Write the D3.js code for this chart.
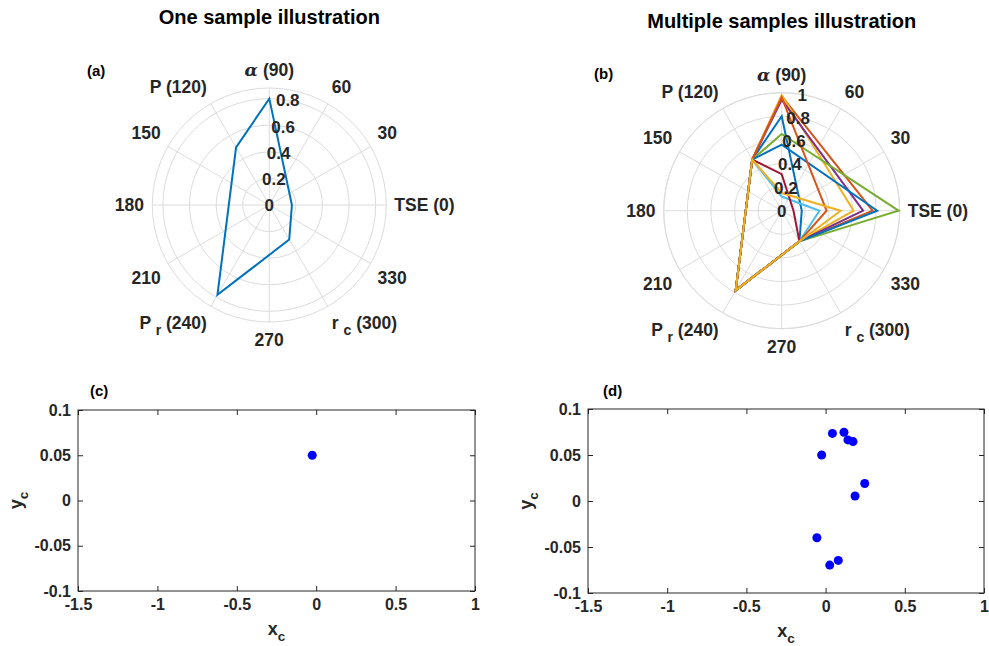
<!DOCTYPE html>
<html>
<head>
<meta charset="utf-8">
<script src="https://cdn.jsdelivr.net/npm/d3@7"></script>
<style>
  body { margin: 0; background: #fff; }
  svg { font-family: "Liberation Sans", Arial, sans-serif; font-weight: bold; }
  .tick text { fill: #262626; }
</style>
</head>
<body>
<svg id="fig" width="989" height="646"></svg>
<script>
// ---- data ----
// polar axes (angle in degrees), order: TSE, alpha, P, Pr, rc
var axisAngles = [0, 90, 120, 240, 300];
var thetaTicks = [0, 30, 60, 90, 120, 150, 180, 210, 240, 270, 300, 330];
var thetaLabels = ["TSE (0)", "30", "60", "α (90)", "P (120)", "150", "180", "210", "P_r (240)", "270", "r_c (300)", "330"];
var rTicksA = [0, 0.2, 0.4, 0.6, 0.8];
var rTicksB = [0, 0.2, 0.4, 0.6, 0.8, 1];

// one sample (a)
var sampleOne = [0.17, 0.80, 0.50, 0.78, 0.30];

// multiple samples (b)
var s1 = [0.17, 0.80, 0.50, 0.78, 0.30];
var s2 = [0.77, 0.97, 0.50, 0.78, 0.30];
var s3 = [0.61, 0.98, 0.50, 0.78, 0.30];
var s4 = [0.69, 0.94, 0.50, 0.78, 0.30];
var s5 = [0.99, 0.65, 0.50, 0.78, 0.30];
var s6 = [0.32, 0.12, 0.50, 0.78, 0.30];
var s7 = [0.10, 0.31, 0.50, 0.78, 0.30];
var s8 = [0.81, 0.56, 0.50, 0.78, 0.30];
var s9 = [0.38, 0.96, 0.50, 0.78, 0.30];
var s10 = [0.50, 0.15, 0.50, 0.78, 0.30];
var samples = [s1, s2, s3, s4, s5, s6, s7, s8, s9, s10];
var lineColors = ["#0072BD", "#D95319", "#EDB120", "#7E2F8E", "#77AC30", "#4DBEEE", "#A2142F"];

// centre coordinates (c) and (d)
var xcOne = [-0.025];
var ycOne = [0.05];
var xcAll = [-0.025, 0.043, 0.116, 0.141, 0.173, 0.247, 0.186, -0.055, 0.026, 0.080];
var ycAll = [0.05, 0.0735, 0.0747, 0.0664, 0.0646, 0.019, 0.0054, -0.040, -0.0697, -0.0646];
var xTicks = [-1.5, -1, -0.5, 0, 0.5, 1];
var yTicks = [-0.1, -0.05, 0, 0.05, 0.1];

var ink = "#262626";
var svg = d3.select("#fig");

// write a label that may contain a subscript (X_s) or the alpha symbol
function richText(sel, label, size) {
    var parts = label.split("_");
    if (parts.length == 2) {
        var rest = parts[1];
        sel.append("tspan").text(parts[0] + " ");
        sel.append("tspan").attr("dy", size * 0.35).attr("font-size", size * 0.8).text(rest[0]);
        sel.append("tspan").attr("dy", -size * 0.35).text(rest.slice(1));
    } else if (label.indexOf("α") == 0) {
        sel.append("tspan").attr("font-family", "DejaVu Serif, serif").attr("font-style", "italic").text("α");
        sel.append("tspan").text(label.slice(1));
    } else {
        sel.text(label);
    }
}

function polarPanel(cx, cy, R, rmax, rTicks, series, colors, title, titleY, letter, letterXY) {
    var g = svg.append("g").attr("transform", "translate(" + cx + "," + cy + ")");
    var r = d3.scaleLinear().domain([0, rmax]).range([0, R]);
    var rad = function(deg) { return deg * Math.PI / 180; };

    // grid: rings + spokes
    g.selectAll("circle.ring")
        .data(rTicks.filter(function(d) { return d > 0; }).concat([rmax]))
        .enter().append("circle")
        .attr("r", function(d) { return r(d); })
        .attr("fill", "none").attr("stroke", "#dcdcdc").attr("stroke-width", 1);
    g.selectAll("line.spoke")
        .data(thetaTicks)
        .enter().append("line")
        .attr("x1", 0).attr("y1", 0)
        .attr("x2", function(d) { return r(rmax) * Math.cos(rad(d)); })
        .attr("y2", function(d) { return -r(rmax) * Math.sin(rad(d)); })
        .attr("stroke", "#dcdcdc").attr("stroke-width", 1);

    // the sample polygons
    var line = d3.lineRadial()
        .angle(function(d, i) { return rad(90 - axisAngles[i]); })
        .radius(function(d) { return r(d); })
        .curve(d3.curveLinearClosed);
    g.selectAll("path.sample")
        .data(series)
        .enter().append("path")
        .attr("d", line)
        .attr("fill", "none")
        .attr("stroke", function(d, i) { return colors[i % colors.length]; })
        .attr("stroke-width", 2)
        .attr("stroke-linejoin", "miter");

    // radial tick labels along 80 degrees
    g.selectAll("text.rtick")
        .data(rTicks)
        .enter().append("text")
        .attr("x", function(d) { return r(d) * Math.cos(rad(80)); })
        .attr("y", function(d) { return -r(d) * Math.sin(rad(80)); })
        .attr("dy", "0.36em")
        .attr("text-anchor", "middle")
        .attr("font-size", 17)
        .attr("fill", ink)
        .text(function(d) { return d; });

    // angle labels: anchored just off the rim, aligned left/right and top/bottom by side
    thetaTicks.forEach(function(t, i) {
        var txt = g.append("text").attr("font-size", 17.5).attr("fill", ink);
        richText(txt, thetaLabels[i], 17.5);
        var bb = txt.node().getBBox();
        var c = Math.cos(rad(t)), s = Math.sin(rad(t));
        var ax = (R + 8) * c, ay = -(R + 8) * s;
        var tx = c > 0.01 ? ax - bb.x : (c < -0.01 ? ax - (bb.x + bb.width) : ax - (bb.x + bb.width / 2));
        var ty = s > 0.01 ? ay - (bb.y + bb.height) : (s < -0.01 ? ay - bb.y : ay - (bb.y + bb.height / 2));
        txt.attr("transform", "translate(" + tx + "," + ty + ")");
    });

    svg.append("text")
        .attr("x", cx).attr("y", titleY)
        .attr("text-anchor", "middle").attr("font-size", 20).attr("fill", "#000")
        .text(title);
    svg.append("text")
        .attr("x", letterXY[0]).attr("y", letterXY[1])
        .attr("font-size", 15).attr("fill", "#000")
        .text(letter);
}

function scatterPanel(box, xs, ys, letter, letterXY) {
    var x = d3.scaleLinear().domain([-1.5, 1]).range([box.left, box.right]);
    var y = d3.scaleLinear().domain([-0.1, 0.1]).range([box.bottom, box.top]);
    var fmt = function(d) { return String(d); };

    svg.append("g")
        .attr("transform", "translate(0," + box.bottom + ")")
        .call(d3.axisBottom(x).tickValues(xTicks).tickFormat(fmt).tickSize(-5).tickSizeOuter(0).tickPadding(8))
        .call(styleAxis);
    svg.append("g")
        .attr("transform", "translate(0," + box.top + ")")
        .call(d3.axisTop(x).tickValues(xTicks).tickFormat("").tickSize(-5).tickSizeOuter(0))
        .call(styleAxis);
    svg.append("g")
        .attr("transform", "translate(" + box.left + ",0)")
        .call(d3.axisLeft(y).tickValues(yTicks).tickFormat(fmt).tickSize(-5).tickSizeOuter(0).tickPadding(7))
        .call(styleAxis);
    svg.append("g")
        .attr("transform", "translate(" + box.right + ",0)")
        .call(d3.axisRight(y).tickValues(yTicks).tickFormat("").tickSize(-5).tickSizeOuter(0))
        .call(styleAxis);

    svg.append("rect")
        .attr("x", box.left).attr("y", box.top)
        .attr("width", box.right - box.left).attr("height", box.bottom - box.top)
        .attr("fill", "none").attr("stroke", ink).attr("stroke-width", 1);

    svg.selectAll(null)
        .data(xs)
        .enter().append("circle")
        .attr("cx", function(d) { return x(d); })
        .attr("cy", function(d, i) { return y(ys[i]); })
        .attr("r", 4.5)
        .attr("fill", "#0000FF");

    var xl = svg.append("text")
        .attr("x", (box.left + box.right) / 2).attr("y", box.bottom + 44)
        .attr("text-anchor", "middle").attr("font-size", 18).attr("fill", ink);
    richTextTight(xl, "x", "c", 18);
    var yl = svg.append("text")
        .attr("transform", "translate(" + (box.left - 56) + "," + ((box.top + box.bottom) / 2) + ")rotate(-90)")
        .attr("text-anchor", "middle").attr("font-size", 18).attr("fill", ink);
    richTextTight(yl, "y", "c", 18);

    svg.append("text")
        .attr("x", letterXY[0]).attr("y", letterXY[1])
        .attr("font-size", 15).attr("fill", "#000")
        .text(letter);
}

function richTextTight(sel, base, sub, size) {
    sel.append("tspan").text(base);
    sel.append("tspan").attr("dy", size * 0.35).attr("font-size", size * 0.75).text(sub);
}

function styleAxis(g) {
    g.select(".domain").remove();
    g.selectAll(".tick line").attr("stroke", ink);
    g.selectAll(".tick text").attr("font-size", 16).attr("font-family", "Liberation Sans, Arial, sans-serif").attr("font-weight", "bold");
}

polarPanel(269.3, 205, 117, 0.88, rTicksA, [sampleOne], lineColors,
    "One sample illustration", 24, "(a)", [87, 76]);
polarPanel(781.7, 210.7, 118, 1, rTicksB, samples, lineColors,
    "Multiple samples illustration", 28, "(b)", [594, 79]);

scatterPanel({left: 78, right: 475, top: 410, bottom: 591}, xcOne, ycOne, "(c)", [90, 396]);
scatterPanel({left: 588, right: 984, top: 409, bottom: 593}, xcAll, ycAll, "(d)", [603, 396]);
</script>
</body>
</html>
